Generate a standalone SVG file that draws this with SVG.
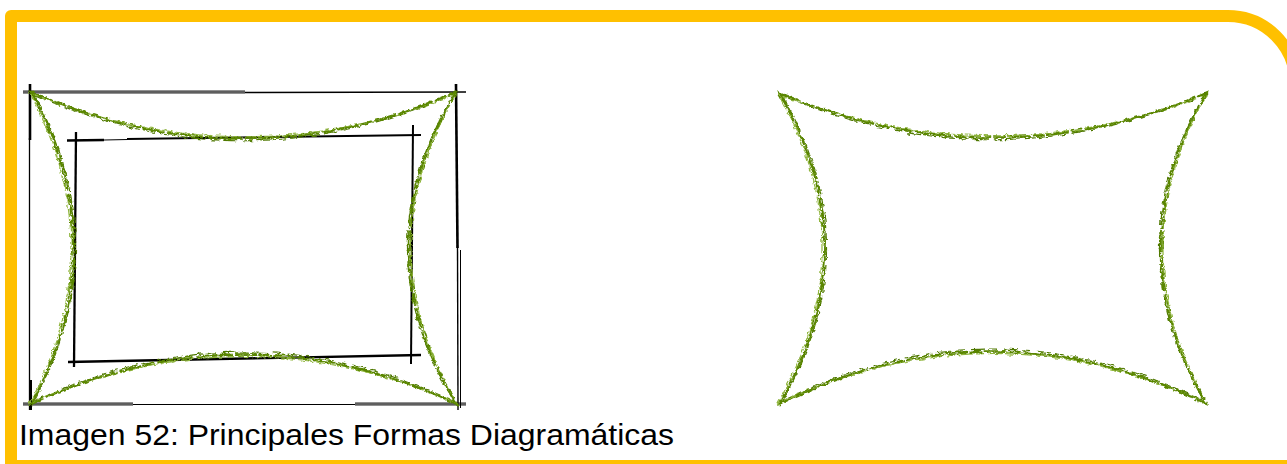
<svg xmlns="http://www.w3.org/2000/svg" width="1287" height="464" viewBox="0 0 1287 464">
  <style>
    .frame { fill: none; stroke: #FFC000; stroke-width: 12; stroke-linejoin: round; }
    .blk { stroke: #000; fill: none; stroke-linecap: butt; }
    .gryo { stroke: #222; stroke-width: 3; fill: none; }
    .gryi { stroke: #9a9a9a; stroke-width: 1.2; fill: none; }
    .g1 { fill: none; stroke: #5a8600; stroke-width: 1.7; stroke-dasharray: 22 3 12 2; }
    .g2 { fill: none; stroke: #8fb53c; stroke-width: 1.2; stroke-dasharray: 9 3 16 2; }
    .g3 { fill: none; stroke: #4f7800; stroke-width: 1.2; stroke-dasharray: 14 6 9 4; }
    .cap { font-family: "Liberation Sans", Arial, sans-serif; font-size: 29px; fill: #000; }
  </style>
  <defs>
    <filter id="rough" x="-5%" y="-5%" width="110%" height="110%">
      <feTurbulence type="fractalNoise" baseFrequency="0.18" numOctaves="2" seed="3" result="n"/>
      <feDisplacementMap in="SourceGraphic" in2="n" scale="5" xChannelSelector="R" yChannelSelector="G"/>
    </filter>
    <filter id="rough2" x="-5%" y="-5%" width="110%" height="110%">
      <feTurbulence type="fractalNoise" baseFrequency="0.22" numOctaves="2" seed="11" result="n"/>
      <feDisplacementMap in="SourceGraphic" in2="n" scale="5" xChannelSelector="G" yChannelSelector="R"/>
    </filter>
  </defs>
  <rect width="1287" height="464" fill="#fff"/>

  <g id="frame">
    <path class="frame" d="M 11 470 L 11 16 L 1228 16 A 67.5 67.5 0 0 1 1295.5 83.5 L 1295.5 466 L 11 466"/>
  </g>

  <g id="outer-rect">
    <line class="gryo" x1="23" y1="92" x2="245" y2="92"/>
    <line class="gryi" x1="23" y1="92" x2="245" y2="92"/>
    <line class="blk" stroke-width="1.6" x1="245" y1="92.5" x2="466" y2="92"/>
    <line class="blk" stroke-width="2.6" x1="30" y1="84" x2="30" y2="140"/>
    <line class="blk" stroke-width="1.3" stroke="#333" x1="29.5" y1="138" x2="29.5" y2="410"/>
    <line class="gryo" x1="23" y1="404" x2="133" y2="404"/>
    <line class="gryi" x1="23" y1="404" x2="133" y2="404"/>
    <line class="blk" stroke-width="1.2" stroke="#222" x1="133" y1="404.5" x2="355" y2="404.5"/>
    <line class="gryo" x1="355" y1="404" x2="466" y2="404"/>
    <line class="gryi" x1="355" y1="404" x2="466" y2="404"/>
    <line class="blk" stroke-width="2.6" x1="456" y1="84" x2="457.5" y2="248"/>
    <line class="blk" stroke-width="1.4" x1="457.5" y1="245" x2="458" y2="410"/>
    <line class="blk" stroke-width="1" stroke="#555" x1="460.5" y1="250" x2="460.5" y2="408"/>
    <line class="blk" stroke-width="2" x1="31" y1="380" x2="31" y2="410"/>
  </g>

  <g id="inner-rect">
    <line class="blk" stroke-width="2.6" x1="67" y1="140.5" x2="104" y2="140"/>
    <line class="blk" stroke-width="1.2" x1="104" y1="140" x2="128" y2="139.5"/>
    <line class="blk" stroke-width="2" x1="127" y1="139" x2="421" y2="135"/>
    <line class="blk" stroke-width="2.3" x1="76" y1="132" x2="74" y2="367"/>
    <line class="blk" stroke-width="2" x1="413" y1="125" x2="411" y2="364"/>
    <line class="blk" stroke-width="2.3" x1="68" y1="362" x2="421" y2="355"/>
  </g>

  <g id="left-shape">
    <g filter="url(#rough)">
      <path class="g1" d="M 31 92 Q 244 184 457 92 Q 363 248 457 404 Q 244 306 31 404 Q 115 248 31 92 Z"/>
      <path class="g3" d="M 33 94 Q 244 188 455 93 Q 360 248 455 402 Q 244 302 33 402 Q 118 248 33 94 Z"/>
    </g>
    <g filter="url(#rough2)">
      <path class="g2" d="M 30 93 Q 244 180 456 94 Q 366 248 456 403 Q 244 310 30 403 Q 112 248 30 93 Z"/>
      <path class="g1" d="M 32 92 Q 244 186 456 92 Q 361 248 456 404 Q 244 304 32 404 Q 117 248 32 92 Z"/>
    </g>
  </g>

  <g id="right-shape">
    <g filter="url(#rough)">
      <path class="g1" d="M 779 93 Q 993 181 1207 93 Q 1117 248 1207 404 Q 993 300 779 404 Q 869 248 779 93 Z"/>
      <path class="g3" d="M 781 95 Q 993 185 1205 94 Q 1114 248 1205 402 Q 993 296 781 402 Q 872 248 781 95 Z"/>
    </g>
    <g filter="url(#rough2)">
      <path class="g2" d="M 778 94 Q 993 177 1206 95 Q 1120 248 1206 403 Q 993 304 778 403 Q 866 248 778 94 Z"/>
      <path class="g1" d="M 780 93 Q 993 183 1206 93 Q 1115 248 1206 404 Q 993 298 780 404 Q 870 248 780 93 Z"/>
    </g>
  </g>

  <g id="caption">
    <text class="cap" x="19" y="445" textLength="655" lengthAdjust="spacingAndGlyphs">Imagen 52: Principales Formas Diagramáticas</text>
  </g>
</svg>
